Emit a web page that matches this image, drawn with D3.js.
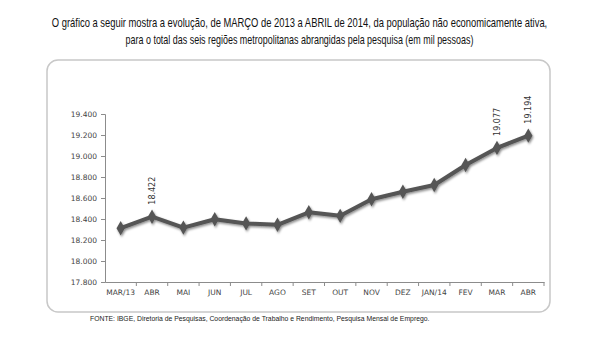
<!DOCTYPE html>
<html>
<head>
<meta charset="utf-8">
<script src="https://cdn.jsdelivr.net/npm/d3@7"></script>
<style>
  body { margin: 0; background: #fff; }
  svg { display: block; }
</style>
</head>
<body>
<div id="chart"></div>
<script>
// data (em mil pessoas)
const months = ["MAR/13", "ABR", "MAI", "JUN", "JUL", "AGO", "SET", "OUT", "NOV", "DEZ", "JAN/14", "FEV", "MAR", "ABR "];
const values = [18312, 18422, 18318, 18398, 18358, 18345, 18464, 18430, 18588, 18660, 18724, 18914, 19077, 19194];
const labelled = ["ABR", "MAR", "ABR "];
const yTicks = [17800, 18000, 18200, 18400, 18600, 18800, 19000, 19200, 19400];
const titleLines = [
  "O gráfico a seguir mostra a evolução, de MARÇO de 2013 a ABRIL de 2014, da população não economicamente ativa,",
  "para o total das seis regiões metropolitanas abrangidas pela pesquisa (em mil pessoas)"
];
const source = "FONTE: IBGE, Diretoria de Pesquisas, Coordenação de Trabalho e Rendimento, Pesquisa Mensal de Emprego.";

const width = 599;
const height = 350;
const plot = {left: 105, right: 544, top: 114, bottom: 282};

const svg = d3.select("#chart").append("svg")
  .attr("width", width)
  .attr("height", height);

// drop shadow for the line
const defs = svg.append("defs");
const shadow = defs.append("filter").attr("id", "shadow")
  .attr("x", "-20%").attr("y", "-20%").attr("width", "140%").attr("height", "140%");
shadow.append("feDropShadow")
  .attr("dx", 1).attr("dy", 1.5).attr("stdDeviation", 1.2)
  .attr("flood-color", "#000").attr("flood-opacity", 0.45);

// title: a narrow look, squeezed horizontally to the original's width
const titleWidths = [496, 348];
svg.append("g").selectAll("g")
  .data(titleLines)
  .join("g")
  .each(function(d, i) {
    const grp = d3.select(this);
    const t = grp.append("text")
      .attr("text-anchor", "middle")
      .style("font-family", "'Liberation Sans', Arial, sans-serif")
      .style("font-size", "12px")
      .style("fill", "#111")
      .text(d);
    const k = titleWidths[i] / t.node().getComputedTextLength();
    grp.attr("transform", `translate(${width / 2},${27 + i * 17}) scale(${k},1)`);
  });

// frame
svg.append("rect")
  .attr("x", 47).attr("y", 60)
  .attr("width", 503).attr("height", 252)
  .attr("rx", 11).attr("ry", 11)
  .attr("fill", "none")
  .attr("stroke", "#c8c8c8")
  .attr("stroke-width", 1.5);

// scales
const x = d3.scaleBand().domain(months).range([plot.left, plot.right]);
const y = d3.scaleLinear().domain([17800, 19400]).range([plot.bottom, plot.top]);

// y axis
const yAxis = svg.append("g")
  .attr("transform", `translate(${plot.left},0)`)
  .call(d3.axisLeft(y).tickValues(yTicks).tickSize(4).tickPadding(4)
    .tickFormat(d => d3.format(",")(d).replace(",", ".")));
yAxis.select(".domain").attr("stroke", "#8c8c8c");
yAxis.selectAll(".tick line").attr("stroke", "#8c8c8c");
yAxis.selectAll(".tick text")
  .style("font-family", "'DejaVu Sans', sans-serif")
  .style("font-size", "7.5px")
  .style("fill", "#444");

// x axis
const xAxis = svg.append("g")
  .attr("transform", `translate(0,${plot.bottom})`)
  .call(d3.axisBottom(x).tickSize(0).tickPadding(8));
xAxis.select(".domain").attr("stroke", "#8c8c8c");
xAxis.selectAll(".tick text")
  .style("font-family", "'DejaVu Sans', sans-serif")
  .style("font-size", "7.5px")
  .style("fill", "#444");
// category separators
xAxis.selectAll(".sep")
  .data(months.slice(1).concat(["end"]))
  .join("line")
  .attr("class", "sep")
  .attr("x1", d => d === "end" ? plot.right : x(d))
  .attr("x2", d => d === "end" ? plot.right : x(d))
  .attr("y1", 0).attr("y2", 4)
  .attr("stroke", "#8c8c8c");

// line
const series = months.map((m, i) => ({m, v: values[i]}));
const line = d3.line()
  .x(d => x(d.m) + x.bandwidth() / 2)
  .y(d => y(d.v));

const g = svg.append("g").attr("filter", "url(#shadow)");
g.append("path")
  .datum(series)
  .attr("d", line)
  .attr("fill", "none")
  .attr("stroke", "#555")
  .attr("stroke-width", 4)
  .attr("stroke-linejoin", "round");

g.selectAll(".pt")
  .data(series)
  .join("path")
  .attr("class", "pt")
  .attr("d", d3.symbol(d3.symbolDiamond, 60))
  .attr("transform", d => `translate(${x(d.m) + x.bandwidth() / 2},${y(d.v)})`)
  .attr("fill", "#555");

// value labels (rotated)
svg.append("g").selectAll("text")
  .data(series.filter(d => labelled.includes(d.m)))
  .join("text")
  .attr("transform", d => `translate(${x(d.m) + x.bandwidth() / 2 + 3},${y(d.v) - 12}) rotate(-90)`)
  .style("font-family", "'DejaVu Sans', sans-serif")
  .style("font-size", "8px")
  .style("fill", "#333")
  .text(d => d3.format(",")(d.v).replace(",", "."));

// source
const src = svg.append("g");
const srcText = src.append("text")
  .style("font-family", "'Liberation Sans', Arial, sans-serif")
  .style("font-size", "7px")
  .style("fill", "#222")
  .text(source);
src.attr("transform", `translate(90,321) scale(${340 / srcText.node().getComputedTextLength()},1)`);
</script>
</body>
</html>
